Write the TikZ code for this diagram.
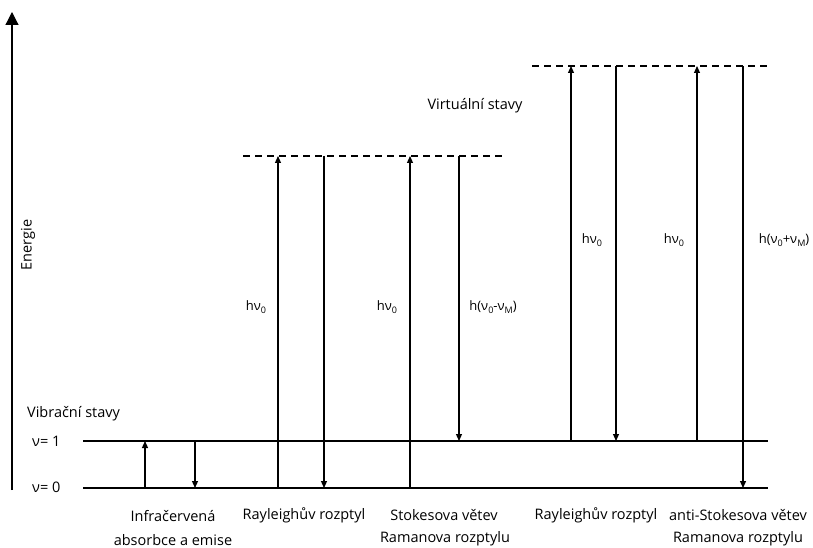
\documentclass[tikz,border=0pt]{standalone}
\usepackage{fontspec}
\setmainfont{Open Sans}
\usetikzlibrary{arrows.meta}
\newcommand{\sbs}[1]{\raisebox{-0.25em}{\fontsize{9}{10}\selectfont #1}}
\begin{document}
\begin{tikzpicture}[x=1pt,y=-1pt,
  lvl/.style={line width=1.2pt},
  tra/.style={line width=1.2pt,-{Triangle[length=7pt,width=6pt]}},
  virt/.style={line width=1.2pt,dash pattern=on 7pt off 5pt},
  lab/.style={font=\fontsize{14.5}{17}\selectfont,inner sep=0pt},
  plab/.style={font=\fontsize{13}{15}\selectfont,inner sep=0pt},
  captext/.style={font=\fontsize{14.5}{17}\selectfont,inner sep=0pt,align=center}]
\useasboundingbox (0,0) rectangle (813,548);
% axis
\coordinate (ax0) at (12,490);
\coordinate (ax1) at (12,12);
\draw[line width=1.2pt,-{Triangle[length=13pt,width=13pt]}] (ax0) -- (ax1);
\node[lab,rotate=90] (energie) at (28,245) {Energie};
% levels
\coordinate (v1l) at (83,441); \coordinate (v1r) at (768,441);
\coordinate (v0l) at (83,488); \coordinate (v0r) at (768,488);
\draw[lvl] (v1l) -- (v1r);
\draw[lvl] (v0l) -- (v0r);
\node[lab,anchor=west] (nu1) at (32,441) {ν= 1};
\node[lab,anchor=west] (nu0) at (32,487) {ν= 0};
\node[lab,anchor=west] (vib) at (27,414) {Vibrační stavy};
% virtual levels
\coordinate (d1l) at (243,156); \coordinate (d1r) at (502,156);
\coordinate (d2l) at (532,66); \coordinate (d2r) at (768,66);
\draw[virt] (d1l) -- (d1r);
\draw[virt] (d2l) -- (d2r);
\node[lab] (virtl) at (475,106) {Virtuální stavy};
% IR
\coordinate (ir1a) at (145,488); \coordinate (ir1b) at (145,441);
\coordinate (ir2a) at (195,441); \coordinate (ir2b) at (195,488);
\draw[tra] (ir1a) -- (ir1b);
\draw[tra] (ir2a) -- (ir2b);
% Rayleigh 1
\coordinate (r1a) at (278,488); \coordinate (r1b) at (278,156);
\coordinate (r2a) at (324,156); \coordinate (r2b) at (324,488);
\draw[tra] (r1a) -- (r1b);
\draw[tra] (r2a) -- (r2b);
% Stokes
\coordinate (s1a) at (410,488); \coordinate (s1b) at (410,156);
\coordinate (s2a) at (459,156); \coordinate (s2b) at (459,441);
\draw[tra] (s1a) -- (s1b);
\draw[tra] (s2a) -- (s2b);
% Rayleigh 2
\coordinate (q1a) at (571,441); \coordinate (q1b) at (571,66);
\coordinate (q2a) at (616,66); \coordinate (q2b) at (616,441);
\draw[tra] (q1a) -- (q1b);
\draw[tra] (q2a) -- (q2b);
% anti-Stokes
\coordinate (a1a) at (697,441); \coordinate (a1b) at (697,66);
\coordinate (a2a) at (743,66); \coordinate (a2b) at (743,488);
\draw[tra] (a1a) -- (a1b);
\draw[tra] (a2a) -- (a2b);
% photon labels
\node[plab] (h1) at (256,307) {hν\sbs{0}};
\node[plab] (h2) at (387,307) {hν\sbs{0}};
\node[plab] (h3) at (493,307) {h(ν\sbs{0}-ν\sbs{M})};
\node[plab] (h4) at (592,240) {hν\sbs{0}};
\node[plab] (h5) at (674,240) {hν\sbs{0}};
\node[plab] (h6) at (784,240) {h(ν\sbs{0}+ν\sbs{M})};
% captions
\node[captext] (c1) at (173,516) {Infračervená};
\node[captext] (c1b) at (173,540) {absorbce a emise};
\node[captext] (c2) at (304,515) {Rayleighův rozptyl};
\node[captext] (c3) at (444,515) {Stokesova větev};
\node[captext] (c3b) at (445,539) {Ramanova rozptylu};
\node[captext] (c4) at (596,515) {Rayleighův rozptyl};
\node[captext] (c5) at (738,515) {anti-Stokesova větev};
\node[captext] (c5b) at (738,539) {Ramanova rozptylu};
\end{tikzpicture}
\end{document}
